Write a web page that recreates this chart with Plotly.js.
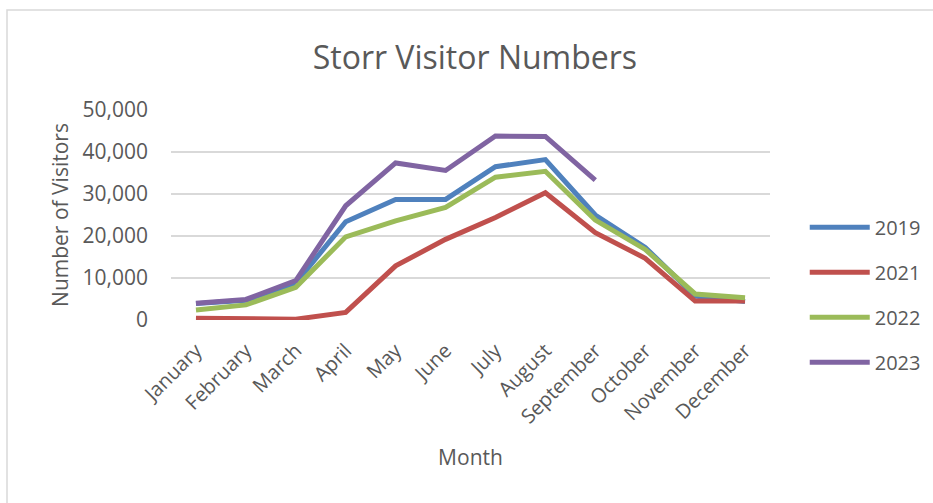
<!DOCTYPE html>
<html>
<head>
<meta charset="utf-8">
<script src="https://cdn.plot.ly/plotly-3.0.1.min.js"></script>
<style>
html,body{margin:0;padding:0;background:#fff;}
#chart{width:933px;height:503px;}
</style>
</head>
<body>
<div id="chart"></div>
<script>
const months = ["January","February","March","April","May","June","July","August","September","October","November","December"];
const v2019 = [3900, 4700, 8800, 23400, 28700, 28700, 36500, 38200, 25000, 17300, 5700, 4400];
const v2021 = [400, 200, 200, 1800, 12900, 19200, 24400, 30300, 20800, 14700, 4500, 4500];
const v2022 = [2400, 3600, 7800, 19800, 23600, 26800, 34000, 35400, 23800, 16800, 6200, 5300];
const v2023 = [4000, 4900, 9400, 27200, 37400, 35600, 43800, 43700, 33300, null, null, null];
const seriesNames = ["2019","2021","2022","2023"];
const colors = ["#4F81BD","#C0504D","#9BBB59","#8064A2"];
const values = [v2019, v2021, v2022, v2023];

const font = "Open Sans, Lato, sans-serif";
const grey = "#595959";

const traces = values.map((v,i)=>({
  type:"scatter", mode:"lines", x:months, y:v, name:seriesNames[i],
  legendgroup:"g"+i,
  line:{color:colors[i], width:5},
  connectgaps:false
}));

const layout = {
  width:933, height:503,
  margin:{l:171, r:163, t:110, b:183, autoexpand:false},
  paper_bgcolor:"#fff", plot_bgcolor:"#fff",
  font:{family:font, color:grey, size:20},
  title:{text:"Storr Visitor Numbers", font:{family:font, size:32, color:grey}, x:0.509, xanchor:"center", y:0.885, yanchor:"middle"},
  xaxis:{
    type:"category", range:[-0.5, 11.5], tickangle:-45, showgrid:false, zeroline:false, showline:false,
    ticks:"", tickfont:{size:20, color:grey}, ticklabelstandoff:14,
    title:{text:"Month", font:{size:21, color:grey}, standoff:22},
    fixedrange:true
  },
  yaxis:{
    range:[0,50000], dtick:10000, tickformat:",d",
    showgrid:true, gridcolor:"#d9d9d9", gridwidth:1.5, zeroline:false, showline:false,
    ticks:"", tickfont:{size:21, color:grey}, ticklabelstandoff:22,
    title:{text:"Number of Visitors", font:{size:21, color:grey}, standoff:8},
    fixedrange:true
  },
  legend:{
    x:1.058, xanchor:"left", y:0.12, yanchor:"middle", itemwidth:60,
    font:{size:20, color:grey}, tracegroupgap:16, bgcolor:"rgba(0,0,0,0)"
  },
  shapes:[{
    type:"rect", xref:"paper", yref:"paper",
    x0:-0.2738, x1:1.3, y0:-1.0, y1:1.476,
    line:{color:"#d9d9d9", width:1.5}, fillcolor:"rgba(0,0,0,0)", layer:"below"
  }],
  showlegend:true
};

Plotly.newPlot("chart", traces, layout, {displayModeBar:false, staticPlot:true});
</script>
</body>
</html>
